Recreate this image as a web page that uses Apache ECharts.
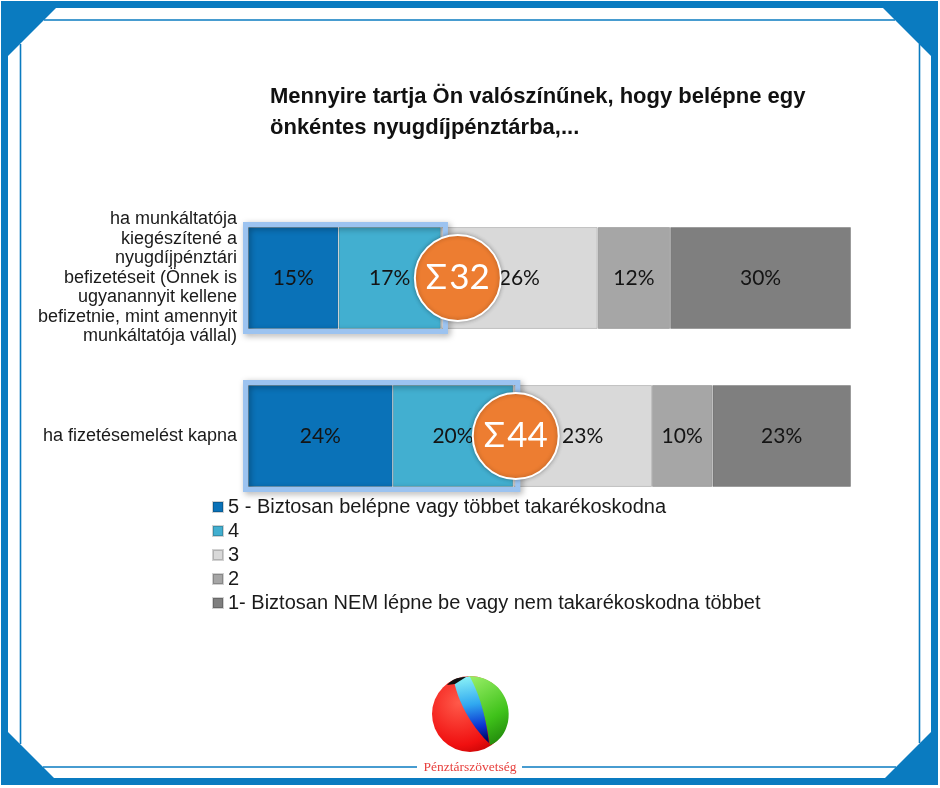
<!DOCTYPE html>
<html><head><meta charset="utf-8">
<script src="https://cdn.jsdelivr.net/npm/echarts@6/dist/echarts.min.js"></script>
<style>html,body{margin:0;padding:0;background:#fff}#c{width:940px;height:788px}</style>
</head><body><div id="c"></div>
<script>
// ---- data ----
const categories = [
  'ha munkáltatója\nkiegészítené a\nnyugdíjpénztári\nbefizetéseit (Önnek is\nugyanannyit kellene\nbefizetnie, mint amennyit\nmunkáltatója vállal)',
  'ha fizetésemelést kapna'
];
const seriesNames = [
  '5 - Biztosan belépne vagy többet takarékoskodna',
  '4',
  '3',
  '2',
  '1- Biztosan NEM lépne be vagy nem takarékoskodna többet'
];
const values5 = [15, 24];
const values4 = [17, 20];
const values3 = [26, 23];
const values2 = [12, 10];
const values1 = [30, 23];
const sums = [32, 44];          // shown in the orange badges
const badgeX = [34.8, 44.4];    // badge centre position on the % scale
const titleText = 'Mennyire tartja Ön valószínűnek, hogy belépne egy\nönkéntes nyugdíjpénztárba,...';

// ---- styles ----
const colors = ['#0a72b8', '#42afd0', '#d9d9d9', '#a6a6a6', '#7f7f7f'];
const frame = '#0a7bc0';
const allValues = [values5, values4, values3, values2, values1];

// sample a chain of cubic bezier segments into polygon points (logo decoration)
function bez(start, segs) {
  const pts = [start];
  let p0 = start;
  segs.forEach(([c1, c2, p3]) => {
    for (let i = 1; i <= 16; i++) {
      const t = i / 16, u = 1 - t;
      pts.push([
        u*u*u*p0[0] + 3*u*u*t*c1[0] + 3*u*t*t*c2[0] + t*t*t*p3[0],
        u*u*u*p0[1] + 3*u*u*t*c1[1] + 3*u*t*t*c2[1] + t*t*t*p3[1]
      ]);
    }
    p0 = p3;
  });
  return pts;
}

const barSeries = allValues.map((vals, k) => ({
  name: seriesNames[k],
  type: 'bar',
  stack: 'total',
  barWidth: '64.5%',
  z: 2,
  data: vals,
  itemStyle: { color: colors[k], borderColor: 'rgba(0,0,0,0.18)', borderWidth: 1 },
  label: {
    show: true, position: 'inside', formatter: '{c}%',
    fontFamily: 'Lato', fontSize: 21, color: '#141414'
  },
  emphasis: { disabled: true },
  silent: true
}));

const boxSeries = {
  type: 'custom',
  z: 3,
  silent: true,
  data: sums.map((s, i) => [i, s]),
  encode: { x: 1, y: 0 },
  renderItem(params, api) {
    const cat = api.value(0), s = api.value(1);
    const p0 = api.coord([0, cat]);
    const p1 = api.coord([s, cat]);
    const h = api.size([0, 1])[1] * 0.645;
    return {
      type: 'rect',
      shape: { x: p0[0] - 2.5, y: p0[1] - h / 2 - 2.5, width: p1[0] - p0[0] + 7, height: h + 5 },
      style: {
        fill: 'none', stroke: '#9cc3f0', lineWidth: 5,
        shadowBlur: 6, shadowColor: 'rgba(0,0,0,0.35)', shadowOffsetX: 2, shadowOffsetY: 2
      }
    };
  }
};

const badgeSeries = {
  type: 'scatter',
  z: 5,
  silent: true,
  symbol: 'circle',
  symbolSize: 86,
  data: badgeX.map((x, i) => [x, i]),
  itemStyle: {
    color: '#ed7d31', borderColor: '#ffffff', borderWidth: 2, opacity: 1,
    shadowBlur: 4, shadowColor: 'rgba(0,0,0,0.3)'
  },
  label: {
    show: true, position: 'inside',
    formatter: p => 'Σ\u200a' + sums[p.dataIndex],
    color: '#ffffff', fontFamily: 'Lato', fontSize: 35
  },
  emphasis: { disabled: true }
};

const graphics = [
  { type: 'rect', shape: { x: 1, y: 1, width: 937, height: 7 }, style: { fill: frame } },
  { type: 'rect', shape: { x: 1, y: 778, width: 937, height: 7 }, style: { fill: frame } },
  { type: 'rect', shape: { x: 1, y: 1, width: 7, height: 784 }, style: { fill: frame } },
  { type: 'rect', shape: { x: 931, y: 1, width: 7, height: 784 }, style: { fill: frame } },
  { type: 'polygon', shape: { points: [[8, 8], [56, 8], [8, 56]] }, style: { fill: frame } },
  { type: 'polygon', shape: { points: [[931, 8], [883, 8], [931, 56]] }, style: { fill: frame } },
  { type: 'polygon', shape: { points: [[8, 778], [54, 778], [8, 732]] }, style: { fill: frame } },
  { type: 'polygon', shape: { points: [[931, 778], [885, 778], [931, 732]] }, style: { fill: frame } },
  { type: 'line', shape: { x1: 44, y1: 20, x2: 895, y2: 20 }, style: { stroke: frame, lineWidth: 1.6 } },
  { type: 'line', shape: { x1: 20.5, y1: 44, x2: 20.5, y2: 744 }, style: { stroke: frame, lineWidth: 1.6 } },
  { type: 'line', shape: { x1: 919.5, y1: 44, x2: 919.5, y2: 743 }, style: { stroke: frame, lineWidth: 1.6 } },
  { type: 'line', shape: { x1: 43, y1: 767, x2: 417, y2: 767 }, style: { stroke: frame, lineWidth: 1.6 } },
  { type: 'line', shape: { x1: 522, y1: 767, x2: 896, y2: 767 }, style: { stroke: frame, lineWidth: 1.6 } },
  // logo
  { type: 'circle', shape: { cx: 470, cy: 714, r: 38 },
    style: { fill: { type: 'radial', x: 0.35, y: 0.35, r: 0.8,
      colorStops: [{ offset: 0, color: '#ff5a4a' }, { offset: 0.7, color: '#f01010' }, { offset: 1, color: '#b80000' }] } } },
  { type: 'polygon', shape: { points: bez([468, 676], [[[498, 676], [512, 700], [508, 722]], [[505, 735], [498, 742], [490, 745]], [[486, 720], [480, 695], [468, 676]]]) },
    style: { fill: { type: 'linear', x: 0, y: 0, x2: 1, y2: 1,
      colorStops: [{ offset: 0, color: '#9cf06a' }, { offset: 0.6, color: '#3fc21a' }, { offset: 1, color: '#1a7a08' }] } } },
  { type: 'polygon', shape: { points: bez([454, 681], [[[460, 677], [466, 676], [470, 677]], [[480, 695], [486, 718], [489, 743]], [[475, 730], [459, 706], [454, 681]]]) },
    style: { fill: { type: 'linear', x: 0, y: 0, x2: 0.3, y2: 1,
      colorStops: [{ offset: 0, color: '#8ff6f6' }, { offset: 0.45, color: '#30a8f0' }, { offset: 0.8, color: '#0a2fd0' }, { offset: 1, color: '#000a60' }] } } },
  { type: 'polygon', shape: { points: bez([447, 685], [[[452, 679], [459, 677], [466, 677]]]).concat([[455, 684]]) }, style: { fill: '#101010' } },
  { type: 'text', x: 470, y: 767,
    style: { text: 'Pénztárszövetség', fill: '#e8413e', font: '13.5px "Liberation Serif", serif', align: 'center', verticalAlign: 'middle' } }
];

const option = {
  backgroundColor: '#ffffff',
  animation: false,
  title: {
    text: titleText, left: 265, top: 76,
    textStyle: { fontFamily: 'Liberation Sans', fontSize: 22, fontWeight: 'bold', lineHeight: 31, color: '#111111' }
  },
  legend: {
    orient: 'vertical', left: 207, top: 492,
    itemWidth: 10, itemHeight: 10, itemGap: 4, icon: 'rect',
    selectedMode: false,
    data: seriesNames,
    textStyle: { fontFamily: 'Liberation Sans', fontSize: 20, lineHeight: 20, color: '#1a1a1a' }
  },
  grid: { left: 248, right: 89, top: 199, bottom: 273 },
  xAxis: { type: 'value', min: 0, max: 100, show: false },
  yAxis: {
    type: 'category', data: categories, inverse: true,
    axisLine: { show: false }, axisTick: { show: false },
    axisLabel: { fontFamily: 'Liberation Sans', fontSize: 18, lineHeight: 19.5, color: '#1a1a1a', margin: 11, align: 'right' }
  },
  graphic: graphics,
  series: [...barSeries, boxSeries, badgeSeries]
};

const chart = echarts.init(document.getElementById('c'), null, { renderer: 'canvas' });
chart.setOption(option);
</script>
</body></html>
